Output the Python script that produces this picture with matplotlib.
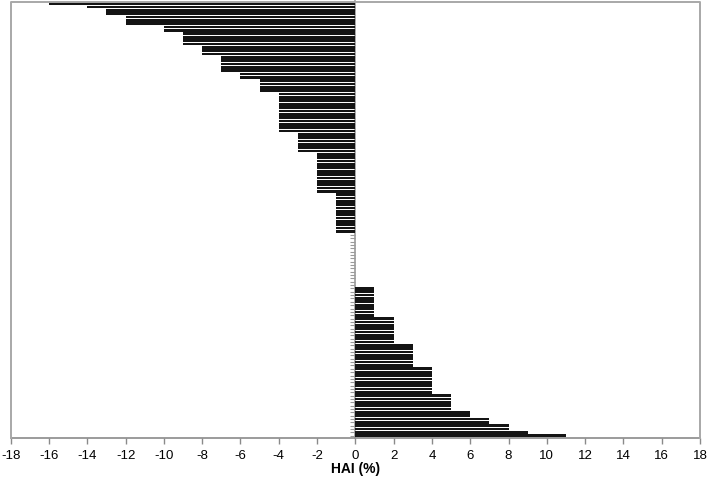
import matplotlib
matplotlib.use("Agg")
import matplotlib.pyplot as plt

# HAI values (%) and how many studies/points share each value, top to bottom
hai_levels = [-16, -14, -13, -12, -10, -9, -8, -7, -6, -5, -4, -3, -2, -1,
              0, 1, 2, 3, 4, 5, 6, 7, 8, 9, 11]
level_counts = [1, 1, 2, 3, 2, 4, 3, 5, 2, 4, 12, 6, 12, 12,
                16, 9, 8, 7, 8, 5, 2, 2, 2, 1, 1]

values = []
for v, c in zip(hai_levels, level_counts):
    values.extend([v] * c)

x_ticks = list(range(-18, 19, 2))
x_label = "HAI (%)"

plt.rcParams['font.family'] = ['Liberation Sans', 'DejaVu Sans']

fig = plt.figure(figsize=(7.09, 4.82), dpi=100)
ax = fig.add_axes([10.7 / 709, 1 - 438 / 482, (700 - 10.7) / 709, (438 - 1.5) / 482])

n = len(values)
ypos = list(range(n))
ax.barh(ypos, values, height=0.8, color='#141414', edgecolor='none', zorder=2)

ax.set_xlim(-18, 18)
ax.set_ylim(n - 0.35, -0.65)

ax.set_xticks(x_ticks)
ax.set_xticklabels([str(t) for t in x_ticks], fontsize=9.5)
ax.set_yticks(ypos)
ax.set_yticklabels([])

ax.spines['left'].set_position(('data', 0))
ax.spines['left'].set_color('#9a9a9a')
ax.spines['left'].set_linewidth(1.2)
ax.spines['left'].set_zorder(1)
for s in ['top', 'right']:
    ax.spines[s].set_visible(False)
ax.spines['bottom'].set_color('#8a8a8a')
ax.spines['bottom'].set_linewidth(1.2)

ax.tick_params(axis='y', direction='out', length=3.5, width=0.8, color='#9a9a9a')
ax.tick_params(axis='x', direction='out', length=4.5, width=1.0, color='#8a8a8a', pad=4)

# outer frame (top, left, right)
ax.plot([0, 0, 1, 1], [0, 1, 1, 0], transform=ax.transAxes, color='#a8a8a8',
        lw=1.4, clip_on=False, zorder=3)

ax.set_xlabel(x_label, fontsize=10, fontweight='bold', labelpad=0)

fig.savefig("out.png", dpi=100)
